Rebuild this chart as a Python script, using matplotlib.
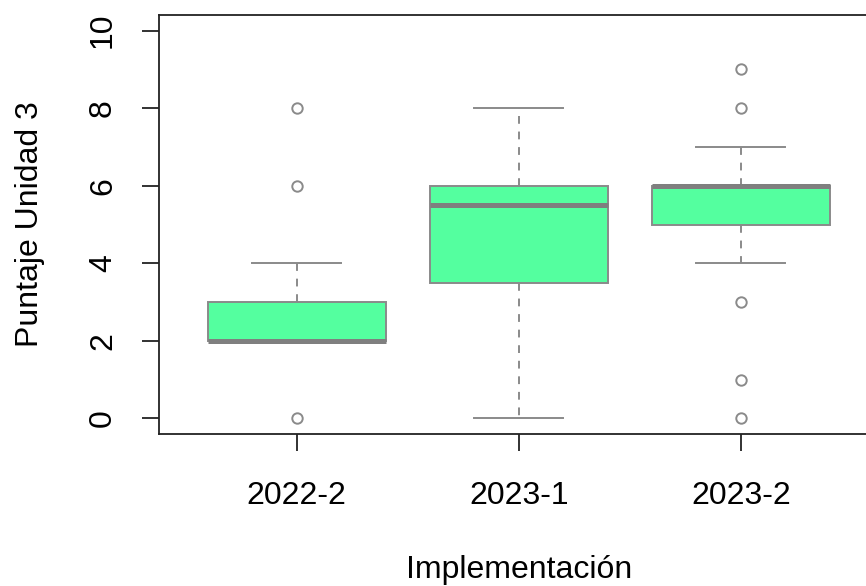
import matplotlib
matplotlib.use("Agg")
import matplotlib.pyplot as plt

categories = ["2022-2", "2023-1", "2023-2"]
q1 = [2.0, 3.5, 5.0]
medians = [2.0, 5.5, 6.0]
q3 = [3.0, 6.0, 6.0]
whislo = [2.0, 0.0, 4.0]
whishi = [4.0, 8.0, 7.0]
outliers = [[0, 6, 8], [], [0, 1, 3, 8, 9]]
yticks = [0, 2, 4, 6, 8, 10]

plt.rcParams['font.family'] = ['Liberation Sans', 'DejaVu Sans']

fig = plt.figure(figsize=(8.66, 5.86), dpi=100)
ax = fig.add_axes([159/866, 1-434/586, (878.6-159)/866, (434-15)/586])

stats = []
for i, c in enumerate(categories):
    stats.append(dict(label=c, q1=q1[i], med=medians[i], q3=q3[i],
                      whislo=whislo[i], whishi=whishi[i], fliers=outliers[i]))

line_c = "#8a8a8a"
ax.bxp(stats, positions=[1, 2, 3], widths=0.8, patch_artist=True,
       showfliers=True,
       boxprops=dict(facecolor="#54FF9F", edgecolor=line_c, linewidth=1.4),
       medianprops=dict(color="#7f7f7f", linewidth=3.6, solid_capstyle='butt'),
       whiskerprops=dict(color=line_c, linewidth=1.4, linestyle=(0, (4, 4))),
       capprops=dict(color=line_c, linewidth=1.4),
       capwidths=0.4,
       flierprops=dict(marker='o', markerfacecolor='none', markeredgecolor=line_c,
                       markersize=7.5, markeredgewidth=1.4))

ax.set_xlim(0.38, 3.62)
ax.set_ylim(-0.4, 10.4)
ax.set_yticks(yticks)
ax.set_yticklabels([str(t) for t in yticks], rotation=90, va='center')
ax.set_xticks([1, 2, 3])
ax.set_xticklabels(categories)
ax.tick_params(axis='both', length=12.5, width=1.3, labelsize=23, color='#222222')
ax.tick_params(axis='y', pad=17)
ax.tick_params(axis='x', pad=21)
for s in ax.spines.values():
    s.set_linewidth(1.3)
    s.set_color('#222222')

fig.text(30/866, 1-(15+434)/2/586, "Puntaje Unidad 3", rotation=90, fontsize=23,
         ha='center', va='center')
fig.text((159+878.6)/2/866, 1-570/586, "Implementación", fontsize=23,
         ha='center', va='center')

fig.savefig("out.png", dpi=100)
